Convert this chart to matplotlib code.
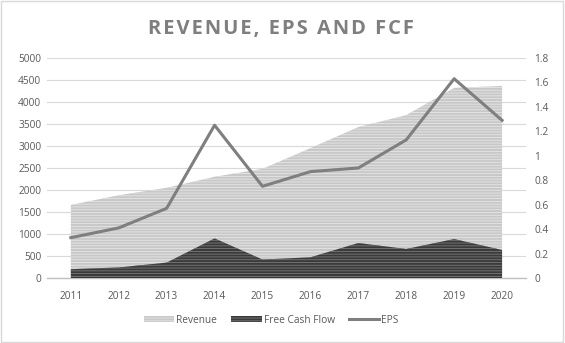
import numpy as np
import matplotlib.pyplot as plt
from matplotlib.patches import Rectangle

years = ['2011', '2012', '2013', '2014', '2015', '2016', '2017', '2018', '2019', '2020']
revenue = [1660, 1880, 2050, 2300, 2480, 2950, 3430, 3700, 4320, 4365]
fcf = [200, 240, 350, 900, 420, 470, 795, 660, 885, 636]
eps = [0.33, 0.41, 0.57, 1.25, 0.75, 0.87, 0.90, 1.13, 1.63, 1.29]

plt.rcParams['font.family'] = ['Open Sans', 'DejaVu Sans']
plt.rcParams['hatch.linewidth'] = 0.6
txt = '#595959'

fig = plt.figure(figsize=(5.65, 3.43), dpi=100)
fig.patches.append(Rectangle((0.002, 0.003), 0.995, 0.993, transform=fig.transFigure,
                             fill=False, edgecolor='#d9d9d9', linewidth=1))
ax = fig.add_axes([0.083, 0.1895, 0.848, 0.6415])
x = np.arange(len(years))

ax.fill_between(x, 0, revenue, facecolor='#c8c8c8', edgecolor='#e6e6e6',
                hatch='------', linewidth=0, label='Revenue', zorder=2)
ax.fill_between(x, 0, fcf, facecolor='#3a3a3a', edgecolor='#7a7a7a',
                hatch='------', linewidth=0, label='Free Cash Flow', zorder=3)

ax.set_xlim(-0.5, len(years) - 0.5)
ax.set_ylim(0, 5000)
ax.set_yticks(np.arange(0, 5001, 500))
ax.set_xticks(x)
ax.set_xticklabels(years)
ax.grid(axis='y', color='#d9d9d9', linewidth=0.8, zorder=0)
ax.set_axisbelow(True)
for s in ['top', 'left', 'right']:
    ax.spines[s].set_visible(False)
ax.spines['bottom'].set_color('#bfbfbf')
ax.spines['bottom'].set_linewidth(1)
ax.tick_params(length=0, labelsize=7.3, colors=txt, pad=4)
ax.tick_params(axis='x', pad=9)

ax2 = ax.twinx()
ax2.plot(x, eps, color='#7f7f7f', linewidth=2.2, label='EPS', zorder=4)
ax2.set_ylim(0, 1.8)
ax2.set_yticks(np.arange(0, 1.81, 0.2))
ax2.set_yticklabels(['0', '0.2', '0.4', '0.6', '0.8', '1', '1.2', '1.4', '1.6', '1.8'])
for s in ax2.spines.values():
    s.set_visible(False)
ax2.tick_params(length=0, labelsize=7.3, colors=txt, pad=6)

# spaced-out title like the original
title = '\u200a'.join('REVENUE, EPS AND FCF')
fig.text(0.497, 0.915, title, ha='center', va='center',
         fontsize=14.5, fontweight='bold', color='#7f7f7f')

h1, l1 = ax.get_legend_handles_labels()
h2, l2 = ax2.get_legend_handles_labels()
fig.legend(h1 + h2, l1 + l2, loc='center', bbox_to_anchor=(0.48, 0.067), ncol=3,
           frameon=False, fontsize=7.3, labelcolor=txt, handlelength=3.0,
           handleheight=0.6, columnspacing=1.4, handletextpad=0.2)

fig.savefig('out.png', dpi=100)
